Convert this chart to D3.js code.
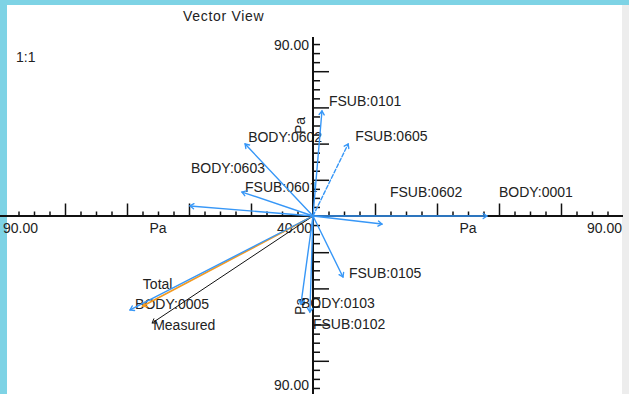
<!DOCTYPE html>
<html>
<head>
<meta charset="utf-8">
<script src="https://cdn.jsdelivr.net/npm/d3@7/dist/d3.min.js"></script>
<style>
  html, body { margin: 0; padding: 0; background: #7ed3e5; }
  svg { display: block; }
  text { font-family: "Liberation Sans", Arial, sans-serif; fill: #222; }
</style>
</head>
<body>
<svg id="chart" width="629" height="394"></svg>
<script>
// Vector components (Pa) for each load vector, drawn from the origin
const names  = ["FSUB:0101", "BODY:0602", "FSUB:0605", "BODY:0603", "FSUB:0601", "FSUB:0602",
                "BODY:0001", "FSUB:0105", "BODY:0103", "FSUB:0102", "BODY:0005", "Total", "Measured"];
const xComp  = [2.6, -19.7, 10.2, -35.7, -20.6, 20.0, 50.5, 8.7, -3.5, -0.9, -53.1, -49.4, -46.7];
const yComp  = [52.2, 35.8, 35.8, 5.0, 11.9, -4.0, 0.0, -30.3, -43.8, -47.7, -46.7, -44.8, -53.2];
const kinds  = ["load", "load", "load", "load", "load", "load",
                "load", "load", "load", "load", "load", "total", "measured"];

// Axis text
const xTickText = ["90.00", "Pa", "40.00", "Pa", "90.00"];
const xTickAt   = [-90, -45, 0, 45, 90];
const yTickText = ["90.00", "Pa", "Pa", "90.00"];
const yTickAt   = [90, 45, -45, -90];
const titleText = "Vector View";
const ratioText = "1:1";

// Label placement relative to each vector tip (px)
const labelDx = [7, 3, 7, 1, 3, 8, 12, 6, 0, 3, 5, 0, 1];
const labelDy = [-10, -7, -8, -38, -5, -32, -24, -4, -1, 12, -6, -22, 2];

const svg = d3.select("#chart");
const W = 629, H = 394;

// frame: white plot area with a light side strip
svg.append("rect").attr("x", 7).attr("y", 5).attr("width", 615).attr("height", H - 5).attr("fill", "#ffffff");
svg.append("rect").attr("x", 622).attr("y", 5).attr("width", 7).attr("height", H - 5).attr("fill", "#ededed");

const ox = 313, oy = 216;
const x = d3.scaleLinear().domain([-90, 90]).range([ox - 310, ox + 310]);
const y = d3.scaleLinear().domain([-90, 90]).range([oy + 181, oy - 181]);

const minorTicks = d3.range(-85.5, 85.6, 4.5).filter(v => Math.abs(v) > 1e-6 && Math.abs(v % 18) > 1e-6);
const majorTicks = d3.range(-72, 72.1, 18).filter(v => Math.abs(v) > 1e-6);

const plot = svg.append("g");
const fontSize = 14;

// vector labels (drawn under the axes)
const labels = plot.append("g");
names.forEach((n, i) => {
  labels.append("text")
    .attr("x", x(xComp[i]) + labelDx[i])
    .attr("y", y(yComp[i]) + labelDy[i])
    .attr("dy", "0.35em")
    .attr("font-size", fontSize)
    .text(n);
});

// horizontal axis
const gx = plot.append("g").attr("transform", `translate(0,${oy})`);
gx.append("g").call(d3.axisTop(x).tickValues(minorTicks).tickSize(4.5).tickFormat(""))
  .call(g => g.select(".domain").remove())
  .call(g => g.selectAll("line").attr("stroke", "#111").attr("stroke-width", 1.5));
gx.append("g").call(d3.axisTop(x).tickValues(majorTicks).tickSize(12.5).tickFormat(""))
  .call(g => g.select(".domain").remove())
  .call(g => g.selectAll("line").attr("stroke", "#111").attr("stroke-width", 1.5));
gx.append("line").attr("x1", 0).attr("x2", x(90)).attr("y1", 0).attr("y2", 0)
  .attr("stroke", "#111").attr("stroke-width", 2);

// vertical axis
const gy = plot.append("g").attr("transform", `translate(${ox},0)`);
gy.append("g").call(d3.axisRight(y).tickValues(minorTicks).tickSize(7).tickFormat(""))
  .call(g => g.select(".domain").remove())
  .call(g => g.selectAll("line").attr("stroke", "#111").attr("stroke-width", 1.5));
gy.append("g").call(d3.axisRight(y).tickValues(majorTicks).tickSize(16).tickFormat(""))
  .call(g => g.select(".domain").remove())
  .call(g => g.selectAll("line").attr("stroke", "#111").attr("stroke-width", 1.5));
gy.append("line").attr("x1", 0).attr("x2", 0).attr("y1", 37).attr("y2", H)
  .attr("stroke", "#111").attr("stroke-width", 2);

// horizontal axis text
const xAnchors = ["start", "middle", "end", "middle", "end"];
xTickText.forEach((t, i) => {
  plot.append("text")
    .attr("x", x(xTickAt[i]) + (xAnchors[i] === "end" ? -1 : 0))
    .attr("y", oy + 12)
    .attr("dy", "0.35em")
    .attr("text-anchor", xAnchors[i])
    .attr("font-size", fontSize)
    .text(t);
});

// vertical axis text
yTickText.forEach((t, i) => {
  if (t === "Pa") {
    plot.append("text")
      .attr("transform", `translate(${ox - 13},${y(yTickAt[i])}) rotate(-90)`)
      .attr("text-anchor", "middle")
      .attr("dy", "0.35em")
      .attr("font-size", fontSize)
      .text(t);
  } else {
    plot.append("text")
      .attr("x", ox - 4)
      .attr("y", yTickAt[i] > 0 ? y(yTickAt[i]) + 10 : y(yTickAt[i]) - 12)
      .attr("dy", "0.35em")
      .attr("text-anchor", "end")
      .attr("font-size", fontSize)
      .text(t);
  }
});

// vectors: resultants first, individual loads on top
const colorOf = { load: "#3797f7", total: "#f29a22", measured: "#111111" };
const widthOf = { load: 1.4, total: 1.7, measured: 1.0 };
const vec = plot.append("g").attr("fill", "none").attr("stroke-linecap", "round");
const order = d3.range(names.length).sort((a, b) => (kinds[a] === "load") - (kinds[b] === "load"));
order.forEach(i => {
  const n = names[i], k = kinds[i];
  const x1 = x(xComp[i]), y1 = y(yComp[i]);
  const line = vec.append("line")
    .attr("x1", x(0)).attr("y1", y(0)).attr("x2", x1).attr("y2", y1)
    .attr("stroke", colorOf[k]).attr("stroke-width", widthOf[k]);
  if (n === "FSUB:0605") line.attr("stroke-dasharray", "4,2");
  // small arrow head at the tip
  const a = Math.atan2(y1 - y(0), x1 - x(0));
  const L = 4.5, s = 0.6;
  const p = d3.path();
  p.moveTo(x1 - L * Math.cos(a - s), y1 - L * Math.sin(a - s));
  p.lineTo(x1, y1);
  p.lineTo(x1 - L * Math.cos(a + s), y1 - L * Math.sin(a + s));
  vec.append("path").attr("d", p.toString())
    .attr("stroke", colorOf[k]).attr("stroke-width", widthOf[k]);
});

// title and ratio
svg.append("text").attr("x", 183).attr("y", 16).attr("dy", "0.35em")
  .attr("font-size", 14).attr("letter-spacing", 0.7).attr("fill", "#333").text(titleText);
svg.append("text").attr("x", 16).attr("y", 57).attr("dy", "0.35em")
  .attr("font-size", fontSize).text(ratioText);
</script>
</body>
</html>
